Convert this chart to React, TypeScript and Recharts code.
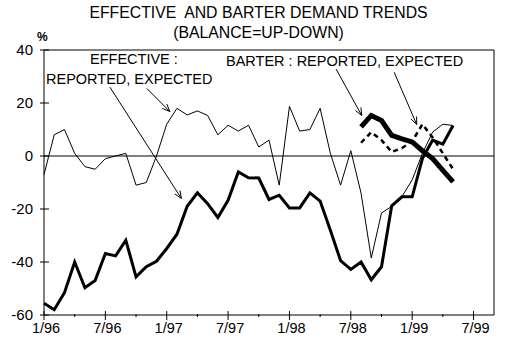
import React from 'react';
import { LineChart, Line, XAxis, YAxis, ReferenceLine } from 'recharts';

// monthly, starting 1/96 (index 0) through 5/99 (index 40)
const tickLabels = ['1/96', '7/96', '1/97', '7/97', '1/98', '7/98', '1/99', '7/99'];
const yTicks = [-60, -40, -20, 0, 20, 40];

const effectiveReported = [
  -7, 8, 10, 1, -4, -5, -1, 0, 1, -11, -10, 0, 12, 18, 15.5, 17, 15.3, 8, 11.6, 9.4,
  11.6, 3.4, 6, -11, 18.7, 9.4, 10, 18, 1, -11, 2, -14, -38.5, -21.5, -19, -15.3, -9, 1,
  9, 12, 11.5,
];
const effectiveExpected = [
  -55.6, -58, -51.6, -40, -49.7, -47, -36.8, -37.7, -31.8, -45.6, -41.8, -39.7, -34.9,
  -29.5, -19, -13.9, -18, -23.2, -16.7, -6, -8.2, -8.3, -16.4, -14.8, -19.6, -19.6, -13.9,
  -17, -28, -39.5, -42.8, -40, -46.7, -41.8, -18.8, -15.4, -15.4, -1, 6, 4.5, 11.5,
];
// barter series start 8/98 (index 31)
const barterStart = 31;
const barterReported = [11, 15.3, 13.4, 7.8, 6.5, 5.3, 2, -1, -5.4, -9.8];
const barterExpected = [5, 9, 6, 1.5, 3, 5.5, 12, 7, 1, -5];

const chartData = effectiveReported.map((v, i) => ({
  m: i,
  effRep: v,
  effExp: effectiveExpected[i],
  barRep: i >= barterStart ? barterReported[i - barterStart] : null,
  barExp: i >= barterStart ? barterExpected[i - barterStart] : null,
}));

const xTicks = Array.from({ length: 15 }, (_, i) => i * 3);

const font = '"Liberation Sans", Arial, sans-serif';

const XTick = ({ x, y, payload }: any) => {
  const major = payload.value % 6 === 0;
  return (
    <g>
      <line x1={x} x2={x} y1={major ? y - 4 : y - 1} y2={major ? y + 5 : y + 2} stroke="#000" />
      {major && (
        <text x={x + 2} y={y + 18} textAnchor="middle" fontSize={14.5} fontFamily={font} fill="#000">
          {tickLabels[payload.value / 6]}
        </text>
      )}
    </g>
  );
};

const YTick = ({ x, y, payload }: any) => (
  <g>
    <line x1={x - 4} x2={x + 5} y1={y} y2={y} stroke="#000" />
    <text x={x - 11} y={y + 5} textAnchor="end" fontSize={15} fontFamily={font} fill="#000">
      {payload.value}
    </text>
  </g>
);

const Arrow = (p: any) => {
  const { x1, y1, x2, y2 } = p;
  const ang = Math.atan2(y2 - y1, x2 - x1);
  const L = 8;
  const a = 0.4;
  const hx1 = x2 - L * Math.cos(ang - a);
  const hy1 = y2 - L * Math.sin(ang - a);
  const hx2 = x2 - L * Math.cos(ang + a);
  const hy2 = y2 - L * Math.sin(ang + a);
  return (
    <g>
      <line x1={x1} y1={y1} x2={x2} y2={y2} stroke="#000" strokeWidth={1} />
      <polyline points={`${hx1},${hy1} ${x2},${y2} ${hx2},${hy2}`} fill="none" stroke="#000" strokeWidth={1} />
    </g>
  );
};

const textStyle: React.CSSProperties = {
  position: 'absolute',
  fontFamily: font,
  fontSize: 14.5,
  lineHeight: '16px',
  color: '#000',
  whiteSpace: 'pre',
};

export default function App() {
  return (
    <div style={{ position: 'relative', width: 517, height: 358, background: '#fff' }}>
      <style>{'body{margin:0}'}</style>
      <div style={{ ...textStyle, left: 0, width: 517, textAlign: 'center', top: 5, fontSize: 15.8 }}>
        EFFECTIVE  AND BARTER DEMAND TRENDS
      </div>
      <div style={{ ...textStyle, left: 0, width: 517, textAlign: 'center', top: 25, fontSize: 15.8 }}>
        (BALANCE=UP-DOWN)
      </div>
      <div style={{ ...textStyle, left: 37, top: 29, fontSize: 12, fontWeight: 'bold' }}>%</div>

      <LineChart
        width={517}
        height={358}
        data={chartData}
        margin={{ top: 50, right: 23, bottom: 13, left: 0 }}
      >
        <XAxis
          dataKey="m"
          type="number"
          domain={[0, 44]}
          ticks={xTicks}
          interval={0}
          tick={XTick}
          tickLine={false}
          tickSize={0}
          tickMargin={0}
          height={30}
          axisLine={{ stroke: '#000' }}
        />
        <YAxis
          type="number"
          domain={[-60, 40]}
          ticks={yTicks}
          interval={0}
          tick={YTick}
          tickLine={false}
          tickSize={0}
          tickMargin={0}
          width={44}
          axisLine={{ stroke: '#000' }}
        />
        <ReferenceLine y={0} stroke="#000" />
        <ReferenceLine y={40} stroke="#000" />
        <ReferenceLine x={44} stroke="#000" />

        <Line type="linear" dataKey="effRep" stroke="#000" strokeWidth={1} dot={false} isAnimationActive={false} />
        <Line type="linear" dataKey="effExp" stroke="#000" strokeWidth={3} dot={false} isAnimationActive={false} />
        <Line
          type="linear"
          dataKey="barExp"
          stroke="#000"
          strokeWidth={2.5}
          strokeDasharray="5 4"
          dot={false}
          isAnimationActive={false}
        />
        <Line type="linear" dataKey="barRep" stroke="#000" strokeWidth={5} dot={false} isAnimationActive={false} />

        <ReferenceLine segment={[{ x: 10.05, y: 25.5 }, { x: 12.3, y: 16.8 }]} shape={Arrow} />
        <ReferenceLine segment={[{ x: 6.44, y: 26 }, { x: 13.43, y: -16 }]} shape={Arrow} />
        <ReferenceLine segment={[{ x: 28.56, y: 32.8 }, { x: 31.07, y: 15.3 }]} shape={Arrow} />
        <ReferenceLine segment={[{ x: 34.24, y: 31.6 }, { x: 36.44, y: 11.9 }]} shape={Arrow} />
      </LineChart>

      <div style={{ ...textStyle, left: 90, top: 51 }}>EFFECTIVE :</div>
      <div style={{ ...textStyle, left: 46, top: 71 }}>REPORTED, EXPECTED</div>
      <div style={{ ...textStyle, left: 226, top: 53 }}>BARTER : REPORTED, EXPECTED</div>
    </div>
  );
}
